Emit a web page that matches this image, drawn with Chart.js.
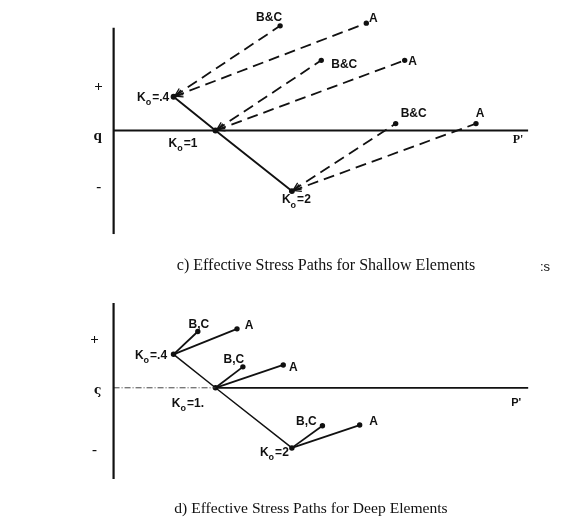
<!DOCTYPE html>
<html>
<head>
<meta charset="utf-8">
<script src="https://cdn.jsdelivr.net/npm/chart.js@4/dist/chart.umd.min.js"></script>
<style>
  body { margin: 0; background: #fff; width: 572px; height: 521px; position: relative; overflow: hidden; }
  canvas { position: absolute; left: 0; }
  #top { top: 0; }
  #bottom { top: 285px; }
  .cap { position: absolute; font-family: "Liberation Serif", serif; font-size: 16px; color: #111; white-space: nowrap; transform: translate(-50%, -50%); }
</style>
</head>
<body>
<canvas id="top" width="572" height="285"></canvas>
<canvas id="bottom" width="572" height="236"></canvas>
<div class="cap" style="left:326px; top:265px;">c) Effective Stress Paths for Shallow Elements</div>
<div class="cap" style="left:545px; top:266px; font-size:13px; font-family:'Liberation Sans';">:s</div>
<div class="cap" style="left:311px; top:508px; font-size:15.6px;">d) Effective Stress Paths for Deep Elements</div>
<script>
// starting states (p', q) for the three Ko values
const koLabels = ['.4', '1', '2'];
const startP = [1.53, 2.6, 4.55];
const startQ = [0.88, 0, -1.58];

// shallow elements: end of stress paths
const shallowBCp = [4.25, 5.3, 7.2];
const shallowBCq = [2.73, 1.83, 0.18];
const shallowAp = [6.45, 7.43, 9.25];
const shallowAq = [2.8, 1.83, 0.18];

// deep elements: end of stress paths
const deepBCp = [2.15, 3.3, 5.33];
const deepBCq = [1.48, 0.55, -1.0];
const deepAp = [3.15, 4.33, 6.28];
const deepAq = [1.55, 0.6, -0.98];

// axis extents
const pAxisMax = 10.58;
const shallowQAxis = [-2.7, 2.68];
const deepQAxis = [-2.4, 2.23];

const ink = '#111';

function seg(p0, q0, p1, q1) {
    return [{x: p0, y: q0}, {x: p1, y: q1}];
}

function buildDatasets(bcP, bcQ, aP, aQ, qAxis, dashed, deep) {
    let ds = [];
    // axes
    ds.push({data: seg(0, qAxis[0], 0, qAxis[1]), borderWidth: 2.2});
    if (deep) {
        ds.push({data: seg(0, 0, startP[1], 0), borderWidth: 1, borderDash: [6, 2, 1, 2], borderColor: '#444'});
        ds.push({data: seg(startP[1], 0, pAxisMax, 0), borderWidth: 1.8});
    } else {
        ds.push({data: seg(0, 0, pAxisMax, 0), borderWidth: 2.2});
    }
    // Ko line
    ds.push({
        data: startP.map((p, i) => ({x: p, y: startQ[i]})),
        borderWidth: deep ? 1.5 : 1.9,
        pointRadius: 2
    });
    for (let i = 0; i < startP.length; i++) {
        [[bcP, bcQ], [aP, aQ]].forEach(function(pair) {
            ds.push({
                data: seg(startP[i], startQ[i], pair[0][i], pair[1][i]),
                borderWidth: deep ? 1.8 : 1.8,
                borderDash: dashed ? [11, 6] : [],
                pointRadius: [0, 1.8],
                arrow: dashed
            });
        });
    }
    ds.forEach(function(d) {
        d.showLine = true;
        d.borderColor = d.borderColor || ink;
        d.backgroundColor = ink;
        if (d.pointRadius === undefined) d.pointRadius = 0;
    });
    return ds;
}

function drawKo(ctx, x, y, rest) {
    ctx.save();
    ctx.font = 'bold 12px "Liberation Sans"';
    ctx.textBaseline = 'middle';
    ctx.textAlign = 'left';
    let wK = ctx.measureText('K').width;
    ctx.font = 'bold 9px "Liberation Sans"';
    let wo = ctx.measureText('o').width;
    ctx.font = 'bold 12px "Liberation Sans"';
    let wr = ctx.measureText(rest).width;
    let x0 = x - (wK + wo + wr) / 2;
    ctx.fillText('K', x0, y);
    ctx.font = 'bold 9px "Liberation Sans"';
    ctx.fillText('o', x0 + wK, y + 5);
    ctx.font = 'bold 12px "Liberation Sans"';
    ctx.fillText(rest, x0 + wK + wo + 1, y);
    ctx.restore();
}

const annotate = {
    id: 'annotate',
    afterDatasetsDraw(chart, args, opts) {
        const ctx = chart.ctx;
        const xs = chart.scales.x, ys = chart.scales.y;
        // arrow heads at the start of dashed paths
        chart.data.datasets.forEach(function(d) {
            if (!d.arrow) return;
            let x0 = xs.getPixelForValue(d.data[0].x), y0 = ys.getPixelForValue(d.data[0].y);
            let x1 = xs.getPixelForValue(d.data[1].x), y1 = ys.getPixelForValue(d.data[1].y);
            let a = Math.atan2(y1 - y0, x1 - x0);
            ctx.save();
            ctx.strokeStyle = ink;
            ctx.lineWidth = 1.3;
            ctx.beginPath();
            ctx.moveTo(x0 + 10 * Math.cos(a + 0.38), y0 + 10 * Math.sin(a + 0.38));
            ctx.lineTo(x0 + 1.5 * Math.cos(a), y0 + 1.5 * Math.sin(a));
            ctx.lineTo(x0 + 10 * Math.cos(a - 0.38), y0 + 10 * Math.sin(a - 0.38));
            ctx.stroke();
            ctx.restore();
        });
        ctx.save();
        ctx.fillStyle = ink;
        ctx.textAlign = 'center';
        ctx.textBaseline = 'middle';
        opts.texts.forEach(function(t) {
            let x = xs.getPixelForValue(t.p) + t.dx;
            let y = ys.getPixelForValue(t.q) + t.dy;
            if (t.ko) {
                drawKo(ctx, x, y, t.text);
            } else {
                ctx.font = t.font || 'bold 12px "Liberation Sans"';
                ctx.fillText(t.text, x, y);
            }
        });
        ctx.restore();
    }
};

function makeChart(id, datasets, qMin, qMax, texts) {
    new Chart(document.getElementById(id), {
        type: 'scatter',
        data: {datasets: datasets},
        options: {
            responsive: false,
            animation: false,
            layout: {padding: 0},
            plugins: {legend: {display: false}, tooltip: {enabled: false}, annotate: {texts: texts}},
            scales: {
                x: {display: false, min: -2.75, max: 11.55},
                y: {display: false, min: qMin, max: qMax}
            }
        },
        plugins: [annotate]
    });
}

const axisFont = 'bold 15px "Liberation Serif"';

const shallowTexts = [
    {text: 'B&C', p: shallowBCp[0], q: shallowBCq[0], dx: -11, dy: -8},
    {text: 'A', p: shallowAp[0], q: shallowAq[0], dx: 7, dy: -4},
    {text: 'B&C', p: shallowBCp[1], q: shallowBCq[1], dx: 23, dy: 4},
    {text: 'A', p: shallowAp[1], q: shallowAq[1], dx: 8, dy: 1},
    {text: 'B&C', p: shallowBCp[2], q: shallowBCq[2], dx: 18, dy: -10},
    {text: 'A', p: shallowAp[2], q: shallowAq[2], dx: 4, dy: -10},
    {text: '=' + koLabels[0], ko: true, p: startP[0], q: startQ[0], dx: -21, dy: 1},
    {text: '=' + koLabels[1], ko: true, p: startP[1], q: startQ[1], dx: -33, dy: 13},
    {text: '=' + koLabels[2], ko: true, p: startP[2], q: startQ[2], dx: 4, dy: 9},
    {text: '+', p: 0, q: 0, dx: -15, dy: -43, font: axisFont},
    {text: 'q', p: 0, q: 0, dx: -16, dy: 6, font: axisFont},
    {text: '-', p: 0, q: 0, dx: -15, dy: 57, font: axisFont},
    {text: "P'", p: pAxisMax, q: 0, dx: -10, dy: 9, font: 'bold 12px "Liberation Serif"'}
];

const deepTexts = [
    {text: 'B,C', p: deepBCp[0], q: deepBCq[0], dx: 1, dy: -7},
    {text: 'A', p: deepAp[0], q: deepAq[0], dx: 12, dy: -3},
    {text: 'B,C', p: deepBCp[1], q: deepBCq[1], dx: -9, dy: -7},
    {text: 'A', p: deepAp[1], q: deepAq[1], dx: 10, dy: 3},
    {text: 'B,C', p: deepBCp[2], q: deepBCq[2], dx: -16, dy: -4},
    {text: 'A', p: deepAp[2], q: deepAq[2], dx: 14, dy: -3},
    {text: '=.4', ko: true, p: startP[0], q: startQ[0], dx: -23, dy: 1},
    {text: '=1.', ko: true, p: startP[1], q: startQ[1], dx: -28, dy: 16},
    {text: '=2', ko: true, p: startP[2], q: startQ[2], dx: -18, dy: 5},
    {text: '+', p: 0, q: 0, dx: -19, dy: -48, font: axisFont},
    {text: 'ς', p: 0, q: 0, dx: -16, dy: 3, font: 'bold 12px "DejaVu Serif"'},
    {text: '-', p: 0, q: 0, dx: -19, dy: 62, font: axisFont},
    {text: "P'", p: pAxisMax, q: 0, dx: -12, dy: 15, font: 'bold 11px "Liberation Sans"'}
];

makeChart('top', buildDatasets(shallowBCp, shallowBCq, shallowAp, shallowAq, shallowQAxis, true, false),
    -155 / 40, 130 / 40, shallowTexts);
makeChart('bottom', buildDatasets(deepBCp, deepBCq, deepAp, deepAq, deepQAxis, false, true),
    -134 / 40, 102 / 40, deepTexts);
</script>
</body>
</html>
